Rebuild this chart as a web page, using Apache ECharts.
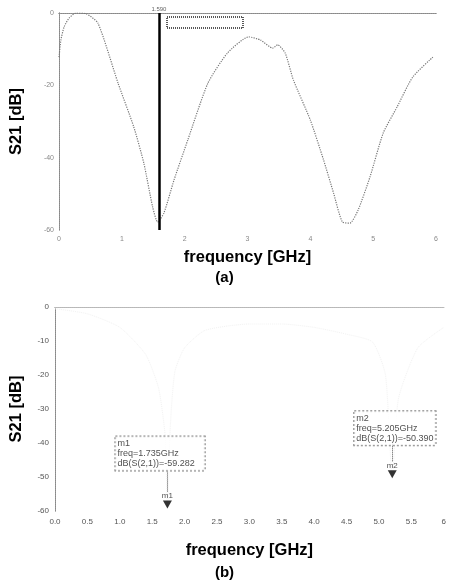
<!DOCTYPE html>
<html>
<head>
<meta charset="utf-8">
<script src="https://cdn.jsdelivr.net/npm/echarts@6/dist/echarts.min.js"></script>
<style>
  html, body { margin: 0; padding: 0; background: #fff; }
  #chart { width: 449px; height: 585px; }
</style>
</head>
<body>
<div id="chart"></div>
<script>
// (a) measured S21 sweep
const freqA = [0, 0.03, 0.08, 0.16, 0.27, 0.43, 0.62, 0.94, 1.19, 1.35, 1.49, 1.57, 1.67, 1.83, 2.05, 2.37, 2.68, 3.02, 3.21, 3.40, 3.48, 3.60, 3.73, 4.0, 4.21, 4.37, 4.51, 4.63, 4.76, 4.95, 5.16, 5.38, 5.63, 5.95];
const s21A = [-12.2, -7.5, -3.9, -1.4, 0, -0.2, -2.8, -19.4, -31.5, -41.5, -53.6, -57.8, -55.3, -46.2, -35.1, -19.4, -11.1, -6.6, -7.5, -9.7, -8.8, -11.1, -18.5, -29.6, -40.6, -49.8, -57.8, -58.1, -54.5, -45.3, -33.2, -26.0, -17.7, -12.2];
const cursorA = 1.59;

// (b) simulated S21 (trace barely visible in the scan) + markers
const freqB = [0, 0.5, 1.0, 1.4, 1.6, 1.7, 1.735, 1.78, 1.85, 2.0, 2.3, 2.66, 3.0, 3.5, 4.0, 4.5, 4.9, 5.1, 5.205, 5.3, 5.6, 6.0];
const s21B = [-0.5, -2, -6, -14, -24, -38, -59.3, -35, -19, -12, -7, -5.6, -5, -5, -6, -8, -10.3, -20, -50.4, -27, -12, -6];
const markerNames = ['m1', 'm2'];
const markerFreq = [1.735, 5.205];
const markerDb = [-59.282, -50.390];

const chart = echarts.init(document.getElementById('chart'));

const titleFont = { fontFamily: 'Liberation Sans', fontWeight: 'bold', fontSize: 16.5, color: '#000' };
const dotted = { color: '#888', type: 'dotted', width: 1 };
const tiny = { fontSize: 7, color: '#888', fontFamily: 'Liberation Sans' };

// readout boxes sit left of the arrow; m1 box is wider to the left
const readoutShift = [-52, -38];
const readoutGap = [38, 33];
const readoutPadRight = [10, 2];

const markerData = markerNames.map((n, i) => ({ name: n, value: [markerFreq[i], markerDb[i]] }));
const readoutData = markerNames.map((n, i) => ({
  name: n,
  value: [markerFreq[i], markerDb[i]],
  label: { offset: [readoutShift[i], 0], distance: readoutGap[i], padding: [2, readoutPadRight[i], 2, 2] }
}));

chart.setOption({
  animation: false,
  backgroundColor: '#fff',
  grid: [
    { left: 58, top: 13, width: 378, height: 217 },
    { left: 53, top: 307, width: 392, height: 204 }
  ],
  xAxis: [
    {
      gridIndex: 0, type: 'value', min: 0, max: 6, interval: 1,
      name: 'frequency [GHz]', nameLocation: 'middle', nameGap: 19, nameTextStyle: titleFont,
      axisLine: { lineStyle: dotted }, axisTick: { show: false },
      axisLabel: Object.assign({ margin: 6 }, tiny), splitLine: { show: false }
    },
    {
      gridIndex: 0, type: 'value', min: 0, max: 6, position: 'top',
      axisLine: { show: true, lineStyle: dotted }, axisTick: { show: false },
      axisLabel: { show: false }, splitLine: { show: false }
    },
    {
      gridIndex: 1, type: 'value', min: 0, max: 6, interval: 0.5,
      name: 'frequency [GHz]', nameLocation: 'middle', nameGap: 31, nameTextStyle: titleFont,
      axisLine: { lineStyle: dotted }, axisTick: { show: false },
      axisLabel: Object.assign({ margin: 7, formatter: v => v === 6 ? '6' : v.toFixed(1) }, tiny, { fontSize: 8, color: '#555' }),
      splitLine: { show: false }
    },
    {
      gridIndex: 1, type: 'value', min: 0, max: 6, position: 'top',
      axisLine: { show: true, lineStyle: { color: '#bbb', type: 'dotted' } }, axisTick: { show: false },
      axisLabel: { show: false }, splitLine: { show: false }
    }
  ],
  yAxis: [
    {
      gridIndex: 0, type: 'value', min: -60, max: 0, interval: 20,
      name: 'S21 [dB]', nameLocation: 'middle', nameGap: 34, nameRotate: 90, nameTextStyle: titleFont,
      axisLine: { show: true, lineStyle: dotted }, axisTick: { show: false },
      axisLabel: Object.assign({ margin: 5 }, tiny), splitLine: { show: false }
    },
    {
      gridIndex: 0, type: 'value', min: -60, max: 0, position: 'right',
      axisLine: { show: true, lineStyle: dotted }, axisTick: { show: false },
      axisLabel: { show: false }, splitLine: { show: false }
    },
    {
      gridIndex: 1, type: 'value', min: -60, max: 0, interval: 10,
      name: 'S21 [dB]', nameLocation: 'middle', nameGap: 30, nameRotate: 90, nameTextStyle: titleFont,
      axisLine: { show: true, lineStyle: dotted }, axisTick: { show: false },
      axisLabel: Object.assign({ margin: 6 }, tiny, { fontSize: 8, color: '#555' }), splitLine: { show: false }
    },
    {
      gridIndex: 1, type: 'value', min: -60, max: 0, position: 'right',
      axisLine: { show: true, lineStyle: dotted }, axisTick: { show: false },
      axisLabel: { show: false }, splitLine: { show: false }
    }
  ],
  graphic: [
    { type: 'rect', shape: { x: 167, y: 17, width: 76, height: 11 },
      style: { fill: '#fff', stroke: '#222', lineWidth: 1.5, lineDash: [1, 1] } },
    { type: 'text', left: 'center', top: 270, style: Object.assign({ text: '(a)' }, titleFont, { fontSize: 15 }) },
    { type: 'text', left: 'center', top: 565, style: Object.assign({ text: '(b)' }, titleFont, { fontSize: 15 }) }
  ],
  series: [
    {
      name: 'S21 (a)', type: 'line', xAxisIndex: 0, yAxisIndex: 0,
      data: freqA.map((f, i) => [f, s21A[i]]),
      showSymbol: false, smooth: 0.2,
      lineStyle: { color: '#777', width: 1.2, type: 'dotted' },
      markLine: {
        symbol: 'none', silent: true,
        lineStyle: { color: '#000', width: 2.5, type: 'solid' },
        label: { show: true, position: 'end', formatter: '1.590', fontSize: 6, color: '#666', distance: 1 },
        data: [{ xAxis: cursorA }]
      }
    },
    {
      name: 'S21 (b)', type: 'line', xAxisIndex: 2, yAxisIndex: 2,
      data: freqB.map((f, i) => [f, s21B[i]]),
      showSymbol: false, smooth: 0.2,
      lineStyle: { color: '#f2f2f2', width: 1, type: 'dotted' },
      markLine: {
        symbol: 'none', silent: true,
        lineStyle: { color: '#555', width: 1, type: 'dotted' },
        label: { show: false },
        data: markerFreq.map((f, i) => [{ coord: [f, markerDb[i] + 5] }, { coord: [f, markerDb[i] + 11] }])
      }
    },
    {
      name: 'markers', type: 'scatter', xAxisIndex: 2, yAxisIndex: 2,
      data: markerData,
      symbol: 'triangle', symbolRotate: 180, symbolSize: [9, 8], symbolOffset: [0, -4],
      itemStyle: { color: '#000' },
      label: {
        show: true, position: 'top', distance: 1, formatter: '{b}',
        fontSize: 8, color: '#222', fontFamily: 'Liberation Sans'
      },
      z: 5
    },
    {
      name: 'marker readouts', type: 'scatter', xAxisIndex: 2, yAxisIndex: 2,
      data: readoutData,
      symbolSize: 0, silent: true,
      label: {
        show: true, position: 'top',
        formatter: p => p.name + '\nfreq=' + p.value[0].toFixed(3) + 'GHz\ndB(S(2,1))=' + p.value[1].toFixed(3),
        fontSize: 9, lineHeight: 10, color: '#222', fontFamily: 'Liberation Sans', align: 'left',
        backgroundColor: '#fff', borderColor: '#666', borderWidth: 1, borderType: 'dotted'
      },
      z: 6
    }
  ]
});
</script>
</body>
</html>
